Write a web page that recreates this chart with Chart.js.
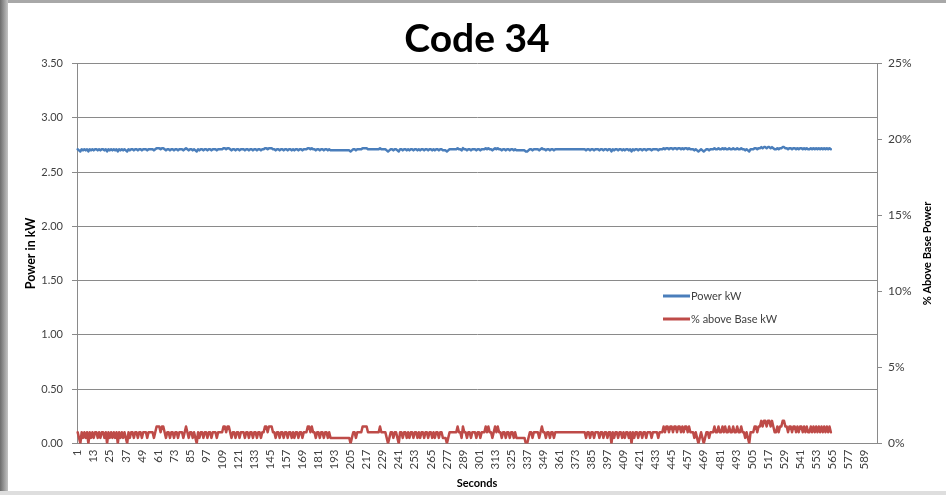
<!DOCTYPE html>
<html>
<head>
<meta charset="utf-8">
<title>Code 34</title>
<script src="https://cdn.jsdelivr.net/npm/chart.js"></script>
<style>
  html, body { margin: 0; padding: 0; background: #fff; }
  #wrap { position: relative; width: 946px; height: 495px; overflow: hidden; background: #fff; }
  #myChart { position: absolute; left: 0; top: 0; }
  .edge-top { position: absolute; left: 0; top: 0; width: 946px; height: 3px; background: #a8a8a8; }
  .edge-left { position: absolute; left: 0; top: 0; width: 8px; height: 495px; background: linear-gradient(to right, #6c6c6c, #c4c4c4); }
  .edge-bottom { position: absolute; left: 0; bottom: 0; width: 946px; height: 4px; background: #dedede; }
</style>
</head>
<body>
<div id="wrap">
  <canvas id="myChart" width="946" height="495"></canvas>
  <div class="edge-top"></div>
  <div class="edge-left"></div>
  <div class="edge-bottom"></div>
</div>
<script>
// x categories: seconds 1..598, labelled every 12th
const seconds = [];
for (let s = 1; s <= 598; s++) seconds.push(s);
const tickLabels = seconds.filter(s => (s - 1) % 12 === 0);

// Power in kW (left axis)
const powerKw = [
  2.71,2.7,2.69,2.71,2.7,2.71,2.7,2.71,2.69,2.71,2.7,2.71,
  2.7,2.71,2.71,2.7,2.71,2.7,2.71,2.71,2.7,2.71,2.69,2.71,
  2.7,2.71,2.7,2.71,2.7,2.71,2.69,2.71,2.7,2.71,2.7,2.71,
  2.7,2.69,2.71,2.7,2.71,2.71,2.7,2.71,2.71,2.7,2.71,2.71,
  2.7,2.71,2.71,2.71,2.7,2.71,2.71,2.71,2.71,2.7,2.71,2.72,
  2.72,2.72,2.71,2.72,2.72,2.71,2.7,2.71,2.71,2.7,2.71,2.71,
  2.7,2.71,2.71,2.7,2.71,2.71,2.71,2.7,2.71,2.72,2.71,2.7,
  2.71,2.71,2.7,2.71,2.7,2.69,2.71,2.7,2.71,2.71,2.7,2.71,
  2.71,2.7,2.71,2.71,2.7,2.71,2.71,2.71,2.7,2.71,2.71,2.71,
  2.71,2.72,2.72,2.71,2.72,2.72,2.71,2.7,2.71,2.71,2.7,2.71,
  2.71,2.7,2.71,2.71,2.71,2.7,2.71,2.71,2.7,2.71,2.71,2.7,
  2.71,2.71,2.7,2.71,2.71,2.7,2.71,2.71,2.72,2.72,2.71,2.72,
  2.72,2.72,2.71,2.71,2.7,2.71,2.71,2.7,2.71,2.71,2.7,2.71,
  2.71,2.7,2.71,2.71,2.7,2.71,2.7,2.71,2.71,2.7,2.71,2.71,
  2.7,2.71,2.71,2.71,2.72,2.72,2.71,2.72,2.71,2.71,2.7,2.71,
  2.71,2.7,2.71,2.71,2.7,2.71,2.71,2.7,2.71,2.7,2.7,2.7,
  2.7,2.7,2.7,2.7,2.7,2.7,2.7,2.7,2.7,2.7,2.7,2.7,
  2.69,2.7,2.71,2.71,2.7,2.71,2.71,2.71,2.71,2.72,2.72,2.72,
  2.72,2.71,2.71,2.71,2.71,2.71,2.71,2.71,2.71,2.71,2.72,2.71,
  2.71,2.71,2.71,2.7,2.69,2.7,2.71,2.71,2.7,2.71,2.71,2.7,
  2.69,2.71,2.71,2.7,2.71,2.71,2.7,2.71,2.7,2.71,2.71,2.7,
  2.71,2.71,2.7,2.71,2.7,2.71,2.71,2.7,2.71,2.71,2.7,2.71,
  2.71,2.7,2.71,2.7,2.71,2.71,2.7,2.71,2.71,2.7,2.7,2.7,
  2.69,2.7,2.71,2.71,2.71,2.71,2.71,2.71,2.72,2.71,2.71,2.7,
  2.72,2.71,2.71,2.7,2.71,2.71,2.7,2.71,2.71,2.71,2.7,2.71,
  2.71,2.7,2.71,2.71,2.71,2.72,2.71,2.72,2.71,2.71,2.7,2.71,
  2.72,2.71,2.72,2.71,2.71,2.7,2.71,2.71,2.7,2.71,2.71,2.7,
  2.71,2.71,2.7,2.71,2.7,2.7,2.7,2.7,2.7,2.7,2.7,2.69,
  2.69,2.7,2.71,2.71,2.7,2.71,2.71,2.71,2.71,2.7,2.71,2.72,
  2.71,2.71,2.7,2.71,2.71,2.7,2.71,2.71,2.7,2.71,2.71,2.71,
  2.71,2.71,2.71,2.71,2.71,2.71,2.71,2.71,2.71,2.71,2.71,2.71,
  2.71,2.71,2.71,2.71,2.71,2.71,2.71,2.71,2.7,2.71,2.71,2.7,
  2.71,2.71,2.7,2.71,2.71,2.71,2.7,2.71,2.71,2.7,2.71,2.71,
  2.7,2.71,2.71,2.69,2.71,2.7,2.71,2.71,2.7,2.71,2.71,2.7,
  2.71,2.7,2.71,2.71,2.7,2.71,2.69,2.71,2.7,2.71,2.71,2.7,
  2.71,2.71,2.7,2.71,2.71,2.7,2.71,2.71,2.71,2.7,2.71,2.71,
  2.71,2.71,2.7,2.71,2.71,2.71,2.72,2.71,2.72,2.72,2.71,2.72,
  2.72,2.71,2.72,2.72,2.71,2.72,2.72,2.71,2.72,2.71,2.72,2.72,
  2.71,2.72,2.71,2.71,2.71,2.7,2.71,2.7,2.69,2.7,2.71,2.7,
  2.69,2.7,2.71,2.71,2.7,2.71,2.71,2.71,2.72,2.71,2.71,2.72,
  2.71,2.71,2.72,2.71,2.72,2.71,2.71,2.72,2.71,2.71,2.72,2.71,
  2.71,2.72,2.71,2.71,2.72,2.71,2.71,2.7,2.71,2.7,2.69,2.71,
  2.71,2.71,2.72,2.72,2.71,2.72,2.72,2.73,2.72,2.73,2.73,2.72,
  2.73,2.73,2.72,2.73,2.72,2.71,2.71,2.72,2.71,2.72,2.72,2.73,
  2.73,2.72,2.72,2.71,2.72,2.72,2.71,2.72,2.72,2.71,2.72,2.71,
  2.72,2.72,2.71,2.72,2.71,2.72,2.71,2.71,2.72,2.71,2.72,2.71,
  2.72,2.71,2.72,2.71,2.72,2.71,2.72,2.71,2.72,2.71,2.72,2.71
];

// % above base kW (right axis, in percent)
const pctAboveBase = [
  0.74,0.37,0,0.74,0.37,0.74,0.37,0.74,0,0.74,0.37,0.74,
  0.37,0.74,0.74,0.37,0.74,0.37,0.74,0.74,0.37,0.74,0,0.74,
  0.37,0.74,0.37,0.74,0.37,0.74,0,0.74,0.37,0.74,0.37,0.74,
  0.37,0,0.74,0.37,0.74,0.74,0.37,0.74,0.74,0.37,0.74,0.74,
  0.37,0.74,0.74,0.74,0.37,0.74,0.74,0.74,0.74,0.37,0.74,1.12,
  1.12,1.12,0.74,1.12,1.12,0.74,0.37,0.74,0.74,0.37,0.74,0.74,
  0.37,0.74,0.74,0.37,0.74,0.74,0.74,0.37,0.74,1.12,0.74,0.37,
  0.74,0.74,0.37,0.74,0.37,0,0.74,0.37,0.74,0.74,0.37,0.74,
  0.74,0.37,0.74,0.74,0.37,0.74,0.74,0.74,0.37,0.74,0.74,0.74,
  0.74,1.12,1.12,0.74,1.12,1.12,0.74,0.37,0.74,0.74,0.37,0.74,
  0.74,0.37,0.74,0.74,0.74,0.37,0.74,0.74,0.37,0.74,0.74,0.37,
  0.74,0.74,0.37,0.74,0.74,0.37,0.74,0.74,1.12,1.12,0.74,1.12,
  1.12,1.12,0.74,0.74,0.37,0.74,0.74,0.37,0.74,0.74,0.37,0.74,
  0.74,0.37,0.74,0.74,0.37,0.74,0.37,0.74,0.74,0.37,0.74,0.74,
  0.37,0.74,0.74,0.74,1.12,1.12,0.74,1.12,0.74,0.74,0.37,0.74,
  0.74,0.37,0.74,0.74,0.37,0.74,0.74,0.37,0.74,0.37,0.37,0.37,
  0.37,0.37,0.37,0.37,0.37,0.37,0.37,0.37,0.37,0.37,0.37,0.37,
  0,0.37,0.74,0.74,0.37,0.74,0.74,0.74,0.74,1.12,1.12,1.12,
  1.12,0.74,0.74,0.74,0.74,0.74,0.74,0.74,0.74,0.74,1.12,0.74,
  0.74,0.74,0.74,0.37,0,0.37,0.74,0.74,0.37,0.74,0.74,0.37,
  0,0.74,0.74,0.37,0.74,0.74,0.37,0.74,0.37,0.74,0.74,0.37,
  0.74,0.74,0.37,0.74,0.37,0.74,0.74,0.37,0.74,0.74,0.37,0.74,
  0.74,0.37,0.74,0.37,0.74,0.74,0.37,0.74,0.74,0.37,0.37,0.37,
  0,0.37,0.74,0.74,0.74,0.74,0.74,0.74,1.12,0.74,0.74,0.37,
  1.12,0.74,0.74,0.37,0.74,0.74,0.37,0.74,0.74,0.74,0.37,0.74,
  0.74,0.37,0.74,0.74,0.74,1.12,0.74,1.12,0.74,0.74,0.37,0.74,
  1.12,0.74,1.12,0.74,0.74,0.37,0.74,0.74,0.37,0.74,0.74,0.37,
  0.74,0.74,0.37,0.74,0.37,0.37,0.37,0.37,0.37,0.37,0.37,0,
  0,0.37,0.74,0.74,0.37,0.74,0.74,0.74,0.74,0.37,0.74,1.12,
  0.74,0.74,0.37,0.74,0.74,0.37,0.74,0.74,0.37,0.74,0.74,0.74,
  0.74,0.74,0.74,0.74,0.74,0.74,0.74,0.74,0.74,0.74,0.74,0.74,
  0.74,0.74,0.74,0.74,0.74,0.74,0.74,0.74,0.37,0.74,0.74,0.37,
  0.74,0.74,0.37,0.74,0.74,0.74,0.37,0.74,0.74,0.37,0.74,0.74,
  0.37,0.74,0.74,0,0.74,0.37,0.74,0.74,0.37,0.74,0.74,0.37,
  0.74,0.37,0.74,0.74,0.37,0.74,0,0.74,0.37,0.74,0.74,0.37,
  0.74,0.74,0.37,0.74,0.74,0.37,0.74,0.74,0.74,0.37,0.74,0.74,
  0.74,0.74,0.37,0.74,0.74,0.74,1.12,0.74,1.12,1.12,0.74,1.12,
  1.12,0.74,1.12,1.12,0.74,1.12,1.12,0.74,1.12,0.74,1.12,1.12,
  0.74,1.12,0.74,0.74,0.74,0.37,0.74,0.37,0,0.37,0.74,0.37,
  0,0.37,0.74,0.74,0.37,0.74,0.74,0.74,1.12,0.74,0.74,1.12,
  0.74,0.74,1.12,0.74,1.12,0.74,0.74,1.12,0.74,0.74,1.12,0.74,
  0.74,1.12,0.74,0.74,1.12,0.74,0.74,0.37,0.74,0.37,0,0.74,
  0.74,0.74,1.12,1.12,0.74,1.12,1.12,1.49,1.12,1.49,1.49,1.12,
  1.49,1.49,1.12,1.49,1.12,0.74,0.74,1.12,0.74,1.12,1.12,1.49,
  1.49,1.12,1.12,0.74,1.12,1.12,0.74,1.12,1.12,0.74,1.12,0.74,
  1.12,1.12,0.74,1.12,0.74,1.12,0.74,0.74,1.12,0.74,1.12,0.74,
  1.12,0.74,1.12,0.74,1.12,0.74,1.12,0.74,1.12,0.74,1.12,0.74
];

const kwTicks = { min: 0, max: 3.5, step: 0.5 };
const pctTicks = { min: 0, max: 25, step: 5 };

const blue = '#4a7ebb';
const red = '#be4b48';
const gridGray = '#8a8a8a';
const textGray = '#404040';
const fontFam = 'Lato, "Liberation Sans", sans-serif';

// legend drawn inside the plot, like the Excel one
const insideLegend = {
    id: 'insideLegend',
    afterDatasetsDraw(chart) {
        const c = chart.ctx;
        const rows = [296, 319];
        c.save();
        c.font = '11px ' + fontFam;
        c.textBaseline = 'middle';
        c.textAlign = 'left';
        chart.data.datasets.forEach(function (ds, i) {
            const y = rows[i];
            c.strokeStyle = ds.borderColor;
            c.lineWidth = 3;
            c.beginPath();
            c.moveTo(663, y);
            c.lineTo(690, y);
            c.stroke();
            c.fillStyle = textGray;
            c.fillText(ds.label, 691, y);
        });
        c.restore();
    }
};

// right axis title reads bottom-to-top in the reference
const rightTitle = {
    id: 'rightTitle',
    afterDraw(chart) {
        const c = chart.ctx;
        const a = chart.chartArea;
        c.save();
        c.translate(927, (a.top + a.bottom) / 2);
        c.rotate(-Math.PI / 2);
        c.font = 'bold 11px ' + fontFam;
        c.fillStyle = '#000';
        c.textAlign = 'center';
        c.textBaseline = 'middle';
        c.fillText('% Above Base Power', 0, 0);
        c.restore();
    }
};

const ctx = document.getElementById('myChart');

new Chart(ctx, {
    type: 'line',
    data: {
        labels: seconds,
        datasets: [{
            label: 'Power kW',
            data: powerKw,
            yAxisID: 'y',
            borderColor: blue,
            backgroundColor: blue,
            borderWidth: 2.5,
            borderJoinStyle: 'round',
            borderCapStyle: 'round',
            pointRadius: 0,
            tension: 0
        }, {
            label: '% above Base kW',
            data: pctAboveBase,
            yAxisID: 'y1',
            borderColor: red,
            backgroundColor: red,
            borderWidth: 2.5,
            borderJoinStyle: 'round',
            borderCapStyle: 'round',
            pointRadius: 0,
            tension: 0
        }]
    },
    options: {
        responsive: false,
        animation: false,
        events: [],
        layout: { padding: 0 },
        plugins: {
            legend: { display: false },
            tooltip: { enabled: false },
            title: {
                display: true,
                fullSize: false,
                text: 'Code 34',
                color: '#000',
                font: { family: fontFam, size: 39, weight: 'bold', lineHeight: 1 },
                padding: { top: 20, bottom: 4.5 }
            }
        },
        scales: {
            x: {
                offset: true,
                grid: { display: false, drawTicks: false },
                border: { display: true, color: gridGray, width: 1 },
                ticks: {
                    autoSkip: false,
                    minRotation: 90,
                    maxRotation: 90,
                    padding: 6,
                    color: textGray,
                    font: { family: fontFam, size: 11.5 },
                    callback: function (val) {
                        const s = this.getLabelForValue(val);
                        return tickLabels.includes(s) ? String(s) : '';
                    }
                },
                title: {
                    display: true,
                    text: 'Seconds',
                    color: '#000',
                    font: { family: fontFam, size: 11, weight: 'bold' },
                    padding: { top: 0, bottom: 5.4 }
                },
                afterFit: function (scale) { scale.height = 51.5; }
            },
            y: {
                position: 'left',
                min: kwTicks.min,
                max: kwTicks.max,
                grid: { color: gridGray, lineWidth: 1, drawTicks: true, tickLength: 5 },
                border: { display: true, color: gridGray, width: 1 },
                ticks: {
                    stepSize: kwTicks.step,
                    padding: 9,
                    color: textGray,
                    font: { family: fontFam, size: 11 },
                    callback: function (v) { return Number(v).toFixed(2); }
                },
                title: {
                    display: true,
                    text: 'Power in kW',
                    color: '#000',
                    font: { family: fontFam, size: 12.5, weight: 'bold' },
                    padding: { top: 23, bottom: 0 }
                },
                afterFit: function (scale) { scale.width = 77; }
            },
            y1: {
                position: 'right',
                min: pctTicks.min,
                max: pctTicks.max,
                grid: { drawOnChartArea: false, color: gridGray, drawTicks: true, tickLength: 5 },
                border: { display: true, color: gridGray, width: 1 },
                ticks: {
                    stepSize: pctTicks.step,
                    padding: 6,
                    color: textGray,
                    font: { family: fontFam, size: 12 },
                    callback: function (v) { return v + '%'; }
                },
                afterFit: function (scale) { scale.width = 69; }
            }
        }
    },
    plugins: [insideLegend, rightTitle]
});
</script>
</body>
</html>
